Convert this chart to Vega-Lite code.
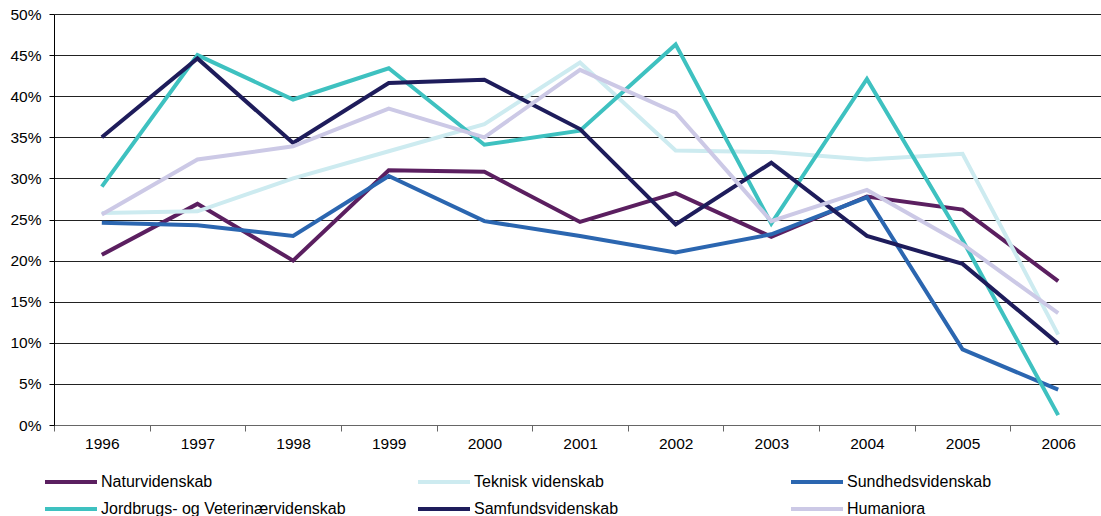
{
  "$schema": "https://vega.github.io/schema/vega-lite/v6.json",
  "width": 1047,
  "height": 411,
  "autosize": {"type": "none"},
  "padding": {"left": 54, "top": 14, "right": 0, "bottom": 91},
  "background": "white",
  "config": {"font": "Liberation Sans", "view": {"stroke": null}},
  "data": {"values": [
    {"year": "1996", "series": "Naturvidenskab", "v": 20.7},
    {"year": "1997", "series": "Naturvidenskab", "v": 26.9},
    {"year": "1998", "series": "Naturvidenskab", "v": 20.0},
    {"year": "1999", "series": "Naturvidenskab", "v": 31.0},
    {"year": "2000", "series": "Naturvidenskab", "v": 30.8},
    {"year": "2001", "series": "Naturvidenskab", "v": 24.7},
    {"year": "2002", "series": "Naturvidenskab", "v": 28.2},
    {"year": "2003", "series": "Naturvidenskab", "v": 22.9},
    {"year": "2004", "series": "Naturvidenskab", "v": 27.8},
    {"year": "2005", "series": "Naturvidenskab", "v": 26.2},
    {"year": "2006", "series": "Naturvidenskab", "v": 17.5},
    {"year": "1996", "series": "Teknisk videnskab", "v": 25.8},
    {"year": "1997", "series": "Teknisk videnskab", "v": 26.0},
    {"year": "1998", "series": "Teknisk videnskab", "v": 30.0},
    {"year": "1999", "series": "Teknisk videnskab", "v": 33.3},
    {"year": "2000", "series": "Teknisk videnskab", "v": 36.6},
    {"year": "2001", "series": "Teknisk videnskab", "v": 44.1},
    {"year": "2002", "series": "Teknisk videnskab", "v": 33.4},
    {"year": "2003", "series": "Teknisk videnskab", "v": 33.2},
    {"year": "2004", "series": "Teknisk videnskab", "v": 32.3},
    {"year": "2005", "series": "Teknisk videnskab", "v": 33.0},
    {"year": "2006", "series": "Teknisk videnskab", "v": 11.0},
    {"year": "1996", "series": "Sundhedsvidenskab", "v": 24.6},
    {"year": "1997", "series": "Sundhedsvidenskab", "v": 24.3},
    {"year": "1998", "series": "Sundhedsvidenskab", "v": 23.0},
    {"year": "1999", "series": "Sundhedsvidenskab", "v": 30.3},
    {"year": "2000", "series": "Sundhedsvidenskab", "v": 24.8},
    {"year": "2001", "series": "Sundhedsvidenskab", "v": 23.0},
    {"year": "2002", "series": "Sundhedsvidenskab", "v": 21.0},
    {"year": "2003", "series": "Sundhedsvidenskab", "v": 23.2},
    {"year": "2004", "series": "Sundhedsvidenskab", "v": 27.7},
    {"year": "2005", "series": "Sundhedsvidenskab", "v": 9.2},
    {"year": "2006", "series": "Sundhedsvidenskab", "v": 4.3},
    {"year": "1996", "series": "Jordbrugs- og Veterinærvidenskab", "v": 29.0},
    {"year": "1997", "series": "Jordbrugs- og Veterinærvidenskab", "v": 45.0},
    {"year": "1998", "series": "Jordbrugs- og Veterinærvidenskab", "v": 39.6},
    {"year": "1999", "series": "Jordbrugs- og Veterinærvidenskab", "v": 43.4},
    {"year": "2000", "series": "Jordbrugs- og Veterinærvidenskab", "v": 34.1},
    {"year": "2001", "series": "Jordbrugs- og Veterinærvidenskab", "v": 35.8},
    {"year": "2002", "series": "Jordbrugs- og Veterinærvidenskab", "v": 46.3},
    {"year": "2003", "series": "Jordbrugs- og Veterinærvidenskab", "v": 24.5},
    {"year": "2004", "series": "Jordbrugs- og Veterinærvidenskab", "v": 42.1},
    {"year": "2005", "series": "Jordbrugs- og Veterinærvidenskab", "v": 22.5},
    {"year": "2006", "series": "Jordbrugs- og Veterinærvidenskab", "v": 1.2},
    {"year": "1996", "series": "Samfundsvidenskab", "v": 35.0},
    {"year": "1997", "series": "Samfundsvidenskab", "v": 44.6},
    {"year": "1998", "series": "Samfundsvidenskab", "v": 34.3},
    {"year": "1999", "series": "Samfundsvidenskab", "v": 41.6},
    {"year": "2000", "series": "Samfundsvidenskab", "v": 42.0},
    {"year": "2001", "series": "Samfundsvidenskab", "v": 36.0},
    {"year": "2002", "series": "Samfundsvidenskab", "v": 24.4},
    {"year": "2003", "series": "Samfundsvidenskab", "v": 31.9},
    {"year": "2004", "series": "Samfundsvidenskab", "v": 23.0},
    {"year": "2005", "series": "Samfundsvidenskab", "v": 19.6},
    {"year": "2006", "series": "Samfundsvidenskab", "v": 9.9},
    {"year": "1996", "series": "Humaniora", "v": 25.6},
    {"year": "1997", "series": "Humaniora", "v": 32.3},
    {"year": "1998", "series": "Humaniora", "v": 33.9},
    {"year": "1999", "series": "Humaniora", "v": 38.5},
    {"year": "2000", "series": "Humaniora", "v": 35.0},
    {"year": "2001", "series": "Humaniora", "v": 43.2},
    {"year": "2002", "series": "Humaniora", "v": 38.0},
    {"year": "2003", "series": "Humaniora", "v": 24.8},
    {"year": "2004", "series": "Humaniora", "v": 28.6},
    {"year": "2005", "series": "Humaniora", "v": 22.0},
    {"year": "2006", "series": "Humaniora", "v": 13.6}
  ]},
  "mark": {"type": "line", "strokeWidth": 4, "strokeJoin": "miter"},
  "encoding": {
    "x": {
      "field": "year", "type": "ordinal", "bandPosition": 0.5,
      "scale": {"type": "band", "paddingInner": 0, "paddingOuter": 0, "range": [0, 1052]},
      "axis": {
        "title": null, "labelAngle": 0, "tickBand": "extent", "grid": false,
        "domainColor": "#666", "tickColor": "#666", "tickSize": 6,
        "labelFontSize": 15.5, "labelColor": "#000", "labelPadding": 5
      }
    },
    "y": {
      "field": "v", "type": "quantitative",
      "scale": {"domain": [0, 50], "nice": false},
      "axis": {
        "title": null, "values": [0, 5, 10, 15, 20, 25, 30, 35, 40, 45, 50],
        "labelExpr": "datum.value + '%'",
        "grid": true, "gridColor": "#222", "gridWidth": 1,
        "domainColor": "#000", "tickColor": "#000", "tickSize": 5,
        "labelFontSize": 15.5, "labelColor": "#000", "labelPadding": 8
      }
    },
    "color": {
      "field": "series", "type": "nominal",
      "scale": {
        "domain": ["Naturvidenskab", "Teknisk videnskab", "Sundhedsvidenskab", "Jordbrugs- og Veterinærvidenskab", "Samfundsvidenskab", "Humaniora"],
        "range": ["#5B1F60", "#CDEBF0", "#2B66B0", "#3EC1C0", "#1E1C5B", "#CCC9E6"]
      },
      "legend": {
        "title": null, "orient": "none", "direction": "horizontal", "legendX": 2, "legendY": 453,
        "columns": 3, "gridAlign": "all", "columnPadding": 64, "rowPadding": 4,
        "symbolType": "M-2,0H2", "symbolSize": 676, "symbolStrokeWidth": 4,
        "labelFontSize": 16, "labelColor": "#000", "labelOffset": 15, "labelLimit": 400,
        "padding": 0
      }
    }
  }
}
